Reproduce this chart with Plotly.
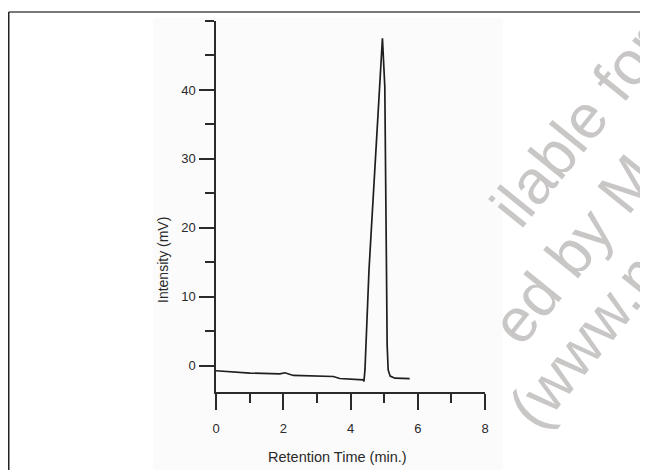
import plotly.graph_objects as go

# ---- data ----
retention_time = [0.0, 0.81, 1.01, 1.90, 2.05, 2.30, 3.49, 3.68, 4.38, 4.40, 4.43, 4.55, 4.72,
                  4.85, 4.95, 5.02, 5.05, 5.07, 5.09, 5.12, 5.18, 5.32, 5.76]
intensity_mv = [-0.72, -0.92, -1.06, -1.16, -1.01, -1.40, -1.55, -1.84, -2.05, -2.25, -0.6, 13.9, 28.4,
                40.5, 47.5, 40.5, 28.4, 14.0, 3.0, -0.6, -1.5, -1.8, -1.85]
x_major_ticks = [0, 2, 4, 6, 8]
x_minor_ticks = [1, 3, 5, 7]
y_major_ticks = [0, 10, 20, 30, 40]
y_minor_ticks = [5, 15, 25, 35, 45, 50]
x_title = "Retention Time (min.)"
y_title = "Intensity (mV)"
watermark_lines = ["ilable for", "ed by Me", "(www.me"]

# ---- layout geometry ----
# the page body adds an 8px margin, so the figure is 8px smaller and all
# screen positions below are shifted by that offset
OFF = 8
W, H = 648 - OFF, 470 - OFF
L, R, T, B = 216 - OFF, 485 - OFF, 21 - OFF, 392 - OFF


def px(x):  # screen x -> paper
    return (x - OFF - L) / (R - L)


def py(y):  # screen y -> paper
    return (B - (y - OFF)) / (B - T)


FONT = "Liberation Sans, Arial, sans-serif"
INK = "#2a2a2a"

fig = go.Figure()
fig.add_trace(go.Scatter(
    x=retention_time, y=intensity_mv, mode="lines",
    line=dict(color="#1e1e1e", width=1.7), hoverinfo="skip", showlegend=False,
))

fig.update_layout(
    width=W, height=H,
    margin=dict(l=L, r=W - R, t=T, b=H - B, pad=0),
    paper_bgcolor="white", plot_bgcolor="rgba(0,0,0,0)",
    font=dict(family=FONT, size=13, color=INK),
    showlegend=False,
)

fig.update_xaxes(
    range=[0, 8], showgrid=False, zeroline=False,
    showline=True, linecolor=INK, linewidth=1.5,
    tickmode="array", tickvals=x_major_ticks, ticktext=[str(v) for v in x_major_ticks],
    ticks="outside", ticklen=16, tickwidth=1.5, tickcolor=INK,
    ticklabelstandoff=8,
    minor=dict(tickvals=x_minor_ticks, ticks="outside", ticklen=9, tickwidth=1.5, tickcolor=INK),
    tickfont=dict(size=13, color=INK),
)
fig.update_yaxes(
    range=[-3.8, 50], showgrid=False, zeroline=False,
    showline=True, linecolor=INK, linewidth=1.5,
    tickmode="array", tickvals=y_major_ticks, ticktext=[str(v) for v in y_major_ticks],
    ticks="outside", ticklen=15, tickwidth=1.5, tickcolor=INK,
    ticklabelstandoff=1,
    minor=dict(tickvals=y_minor_ticks, ticks="outside", ticklen=9, tickwidth=1.5, tickcolor=INK),
    tickfont=dict(size=13, color=INK),
)

# faint scanned-figure background and outer frame
fig.add_shape(type="rect", xref="paper", yref="paper", layer="below",
              x0=px(153), x1=px(503), y0=py(470), y1=py(18),
              fillcolor="#fbfbfb", line=dict(width=0))
fig.add_shape(type="line", xref="paper", yref="paper",
              x0=px(8.75), x1=px(648), y0=py(12), y1=py(12),
              line=dict(color="#7a7a7a", width=2))
fig.add_shape(type="line", xref="paper", yref="paper",
              x0=px(8.75), x1=px(8.75), y0=py(12), y1=py(470),
              line=dict(color="#222222", width=1.5))

# axis titles
fig.add_annotation(text=y_title, xref="paper", yref="paper", x=px(163), y=py(260),
                   textangle=-90, showarrow=False, xanchor="center", yanchor="middle",
                   font=dict(size=14, color=INK, family=FONT))
fig.add_annotation(text=x_title, xref="paper", yref="paper", x=px(337), y=py(457),
                   showarrow=False, xanchor="center", yanchor="middle",
                   font=dict(size=14.5, color=INK, family=FONT))

# watermark
wm_centers = [(577, 126), (584, 236), (601, 320)]
for txt, (cx, cy) in zip(watermark_lines, wm_centers):
    fig.add_annotation(text=txt, xref="paper", yref="paper", x=px(cx), y=py(cy),
                       textangle=-51, showarrow=False, xanchor="center", yanchor="middle",
                       font=dict(size=62, color="#c9c6c6", family=FONT))

fig.write_html("out.html")
